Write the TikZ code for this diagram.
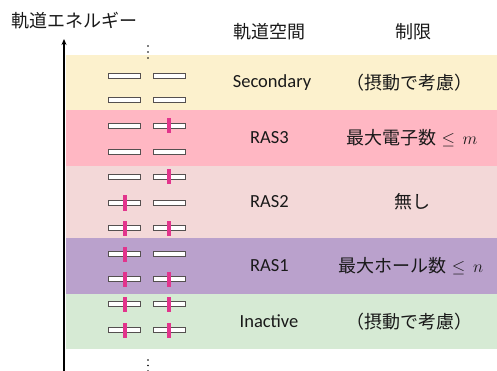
\documentclass[tikz,border=0pt]{standalone}
\usepackage{fontspec}
\setmainfont{Carlito}
\newfontfamily\jp{Noto Sans CJK JP}
\usetikzlibrary{arrows.meta}
\definecolor{csec}{RGB}{252,241,205}
\definecolor{cras3}{RGB}{255,183,195}
\definecolor{cras2}{RGB}{243,216,216}
\definecolor{cras1}{RGB}{186,161,204}
\definecolor{cina}{RGB}{214,234,212}
\definecolor{celec}{RGB}{226,52,140}
\definecolor{cbar}{RGB}{85,80,80}
\begin{document}
\begin{tikzpicture}[x=1pt,y=-1pt,
  band/.style={fill=#1, draw=none, minimum width=431pt, anchor=north west, inner sep=0pt, outer sep=0pt},
  orb/.style={draw=cbar, fill=white, line width=1pt, minimum width=32pt, minimum height=4.5pt, inner sep=0pt},
  elec/.style={fill=celec, draw=none, minimum width=4.3pt, minimum height=15pt, inner sep=0pt},
  lab/.style={font=\fontsize{18.5}{22}\selectfont, text=black!90, inner sep=0pt},
  jlab/.style={font=\jp\fontsize{18}{22}\selectfont, text=black!90, inner sep=0pt},
  dot/.style={circle, fill=black, minimum size=1.6pt, inner sep=0pt}]
\useasboundingbox (0,0) rectangle (497,371);
% bands
\node[band=csec, minimum height=55pt] (sec) at (66,55) {};
\node[band=cras3, minimum height=56pt] (ras3) at (66,110) {};
\node[band=cras2, minimum height=72pt] (ras2) at (66,166) {};
\node[band=cras1, minimum height=56pt] (ras1) at (66,238) {};
\node[band=cina, minimum height=55pt] (ina) at (66,294) {};
% axis
\coordinate (axb) at (64,371);
\coordinate (axt) at (64,39);
\draw[line width=1.4pt, -{Stealth[length=6pt,width=5pt]}] (axb) -- (axt);
% headers
\node[jlab] (hE) at (74,21) {軌道エネルギー};
\node[jlab] (hS) at (269,32) {軌道空間};
\node[jlab] (hR) at (413,32) {制限};
% band labels
\node[lab] (lsec) at (272,82.5) {Secondary};
\node[lab] (lras3) at (269.5,138) {RAS3};
\node[lab] (lras2) at (269.5,202) {RAS2};
\node[lab] (lras1) at (269.5,266) {RAS1};
\node[lab] (lina) at (269,321.5) {Inactive};
\node[jlab] (rsec) at (409,82.5) {（摂動で考慮）};
\node[jlab] (rras3) at (412,138) {最大電子数\hspace{5pt}$\leq\, m$};
\node[jlab] (rras2) at (412,202) {無し};
\node[jlab] (rras1) at (411,266) {最大ホール数\hspace{5pt}$\leq\, n$};
\node[jlab] (rina) at (409,321.5) {（摂動で考慮）};
% orbitals
\foreach \y/\a/\b [count=\i] in {76/0/0,100/0/0,126/0/1,152/0/0,177/0/1,203/1/0,228/1/1,254/1/0,279/1/1,304/1/1,330/1/1}{
  \node[orb] (oL\i) at (124.5,\y) {};
  \node[orb] (oR\i) at (169,\y) {};
  \ifnum\a=1 \node[elec] (eL\i) at (125.3,\y) {};\fi
  \ifnum\b=1 \node[elec] (eR\i) at (169,\y) {};\fi
}
% dots
\foreach \y [count=\i] in {46,52,58}{\node[dot] (dt\i) at (148,\y) {};}
\foreach \y [count=\i] in {360,365.5,371}{\node[dot] (db\i) at (148,\y) {};}
\end{tikzpicture}
\end{document}
